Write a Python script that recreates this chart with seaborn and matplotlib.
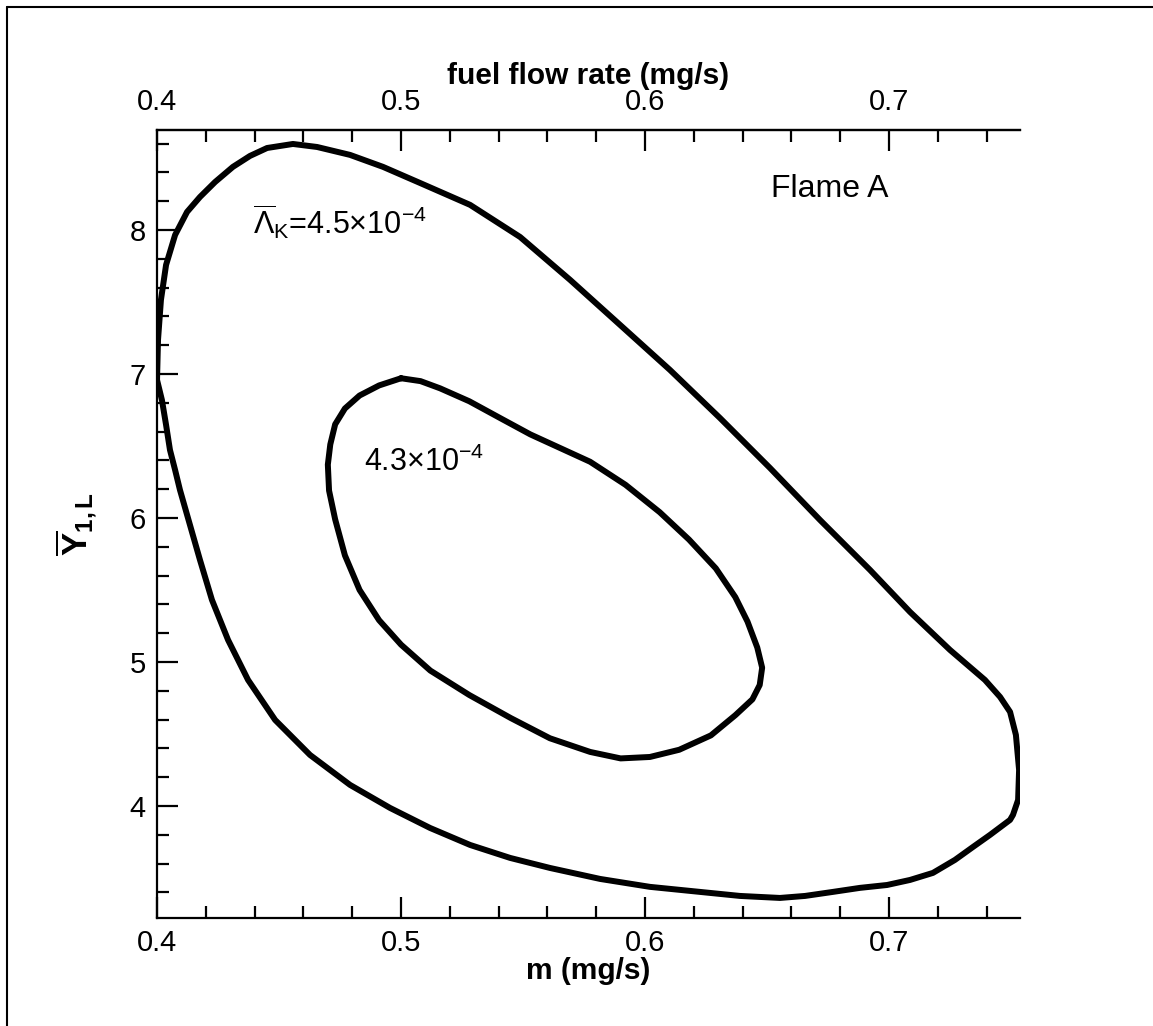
import matplotlib
matplotlib.use("Agg")
import matplotlib.pyplot as plt
import seaborn as sns
import pandas as pd
from matplotlib.lines import Line2D
from matplotlib.ticker import MultipleLocator, FormatStrFormatter

# Outer contour, Lambda_K = 4.5e-4
outer_m = [0.4000, 0.4004, 0.4016, 0.4037, 0.4074, 0.4123, 0.4176, 0.4238, 0.4311,
           0.4381, 0.4451, 0.4557, 0.4656, 0.4791, 0.4926, 0.5078, 0.5283, 0.5488,
           0.5693, 0.5898, 0.6102, 0.6307, 0.6512, 0.6717, 0.6922, 0.7086, 0.7250,
           0.7393, 0.7455, 0.7496, 0.7520, 0.7533, 0.7529, 0.7508, 0.7496, 0.7414,
           0.7344, 0.7270, 0.7180, 0.7086, 0.6992, 0.6881, 0.6770, 0.6656, 0.6553,
           0.6389, 0.6225, 0.6020, 0.5816, 0.5611, 0.5447, 0.5283, 0.5119, 0.4955,
           0.4791, 0.4627, 0.4484, 0.4373, 0.4291, 0.4225, 0.4176, 0.4135, 0.4094,
           0.4074, 0.4053, 0.4037, 0.4020]
outer_y = [6.958, 7.236, 7.514, 7.757, 7.965, 8.125, 8.229, 8.333, 8.438,
           8.514, 8.569, 8.597, 8.576, 8.521, 8.438, 8.326, 8.174, 7.951,
           7.653, 7.340, 7.028, 6.694, 6.347, 5.986, 5.639, 5.347, 5.083,
           4.875, 4.757, 4.653, 4.493, 4.250, 4.042, 3.938, 3.903, 3.799,
           3.715, 3.625, 3.535, 3.486, 3.451, 3.431, 3.403, 3.375, 3.361,
           3.375, 3.403, 3.438, 3.493, 3.569, 3.639, 3.729, 3.847, 3.986,
           4.146, 4.354, 4.597, 4.875, 5.153, 5.431, 5.708, 5.951, 6.194,
           6.333, 6.472, 6.646, 6.819]

# Inner contour, Lambda_K = 4.3e-4
inner_m = [0.500, 0.491, 0.483, 0.477, 0.473, 0.471, 0.470, 0.4705, 0.473, 0.477,
           0.483, 0.491, 0.500, 0.512, 0.528, 0.545, 0.561, 0.5775, 0.590, 0.602,
           0.614, 0.627, 0.637, 0.644, 0.647, 0.648, 0.646, 0.642, 0.637, 0.629,
           0.618, 0.606, 0.592, 0.5775, 0.553, 0.541, 0.528, 0.516, 0.508]
inner_y = [6.97, 6.92, 6.85, 6.76, 6.65, 6.51, 6.37, 6.19, 5.99, 5.74,
           5.50, 5.29, 5.12, 4.94, 4.77, 4.61, 4.47, 4.375, 4.33, 4.34,
           4.39, 4.49, 4.63, 4.74, 4.84, 4.96, 5.10, 5.28, 5.45, 5.65,
           5.85, 6.04, 6.23, 6.39, 6.58, 6.69, 6.81, 6.90, 6.95]

x_ticks = [0.4, 0.5, 0.6, 0.7]
y_ticks = [4, 5, 6, 7, 8]

sns.set_theme(style="ticks")
plt.rcParams["font.family"] = ["Liberation Sans", "DejaVu Sans"]
plt.rcParams["mathtext.fontset"] = "custom"
plt.rcParams["mathtext.rm"] = "Liberation Sans"
plt.rcParams["mathtext.it"] = "Liberation Sans:italic"
plt.rcParams["mathtext.bf"] = "Liberation Sans:bold"
plt.rcParams["text.color"] = "black"
plt.rcParams["axes.labelcolor"] = "black"


def closed(m, y):
    return pd.DataFrame({"m": list(m) + [m[0]], "y": list(y) + [y[0]]})


fig = plt.figure(figsize=(11.53, 10.26), dpi=100)
ax = fig.add_axes([0.1362, 0.1053, 0.7485, 0.768])

for m, y in [(outer_m, outer_y), (inner_m, inner_y)]:
    sns.lineplot(data=closed(m, y), x="m", y="y", sort=False, estimator=None,
                 color="black", linewidth=4.3, ax=ax)

ax.set_xlim(0.4, 0.7537)
ax.set_ylim(3.222, 8.694)

ax.spines["right"].set_visible(False)
for s in ["left", "bottom", "top"]:
    ax.spines[s].set_linewidth(1.6)
    ax.spines[s].set_color("black")

ax.set_xticks(x_ticks)
ax.set_yticks(y_ticks)
ax.xaxis.set_major_formatter(FormatStrFormatter("%.1f"))
ax.yaxis.set_major_formatter(FormatStrFormatter("%d"))
ax.xaxis.set_minor_locator(MultipleLocator(0.02))
ax.yaxis.set_minor_locator(MultipleLocator(0.2))
ax.tick_params(which="both", direction="in", top=False, right=False,
               width=1.6, colors="black", labelsize=21)
ax.tick_params(which="major", length=15, pad=8)
ax.tick_params(which="minor", length=8.5)

ax.set_xlabel("m (mg/s)", fontsize=21.5, fontweight="bold", labelpad=0)
ax.set_ylabel(r"$\overline{\mathbf{Y}}_{\mathbf{1,L}}$", fontsize=25, labelpad=22)

top = ax.secondary_xaxis("top")
top.set_xticks(x_ticks)
top.xaxis.set_major_formatter(FormatStrFormatter("%.1f"))
top.xaxis.set_minor_locator(MultipleLocator(0.02))
top.tick_params(which="both", direction="in", width=1.6, colors="black", labelsize=21)
top.tick_params(which="major", length=15, pad=10)
top.tick_params(which="minor", length=8.5)
top.spines["top"].set_linewidth(1.6)
top.set_xlabel("fuel flow rate (mg/s)", fontsize=21.5, fontweight="bold", labelpad=3)

ax.text(0.6758, 8.285, "Flame A", fontsize=23, ha="center", va="center")
ax.text(0.4393, 8.06, r"$\overline{\Lambda}_{\mathrm{K}}$=4.5×10$^{-4}$",
        fontsize=22, ha="left", va="center")
ax.text(0.5094, 6.389, "4.3×10$^{-4}$", fontsize=22, ha="center", va="center")

# page frame edges
fx, fy = 7 / 1153, 1 - 7 / 1026
fig.add_artist(Line2D([fx, fx], [0, fy], transform=fig.transFigure, color="black", lw=1.5))
fig.add_artist(Line2D([fx, 1], [fy, fy], transform=fig.transFigure, color="black", lw=1.5))

fig.savefig("out.png", dpi=100)
